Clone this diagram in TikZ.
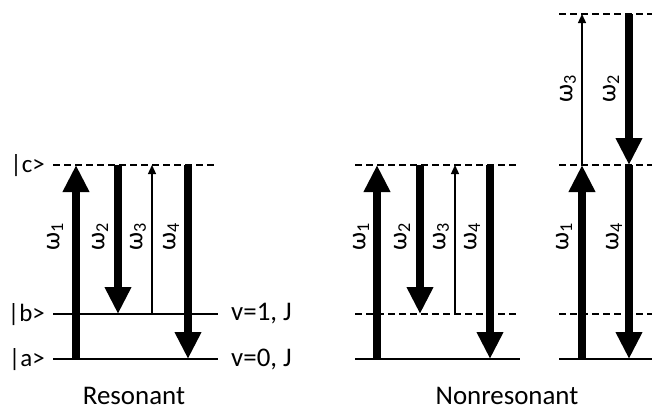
\documentclass[tikz,border=0pt]{standalone}
\usepackage{fontspec}
\setmainfont{Carlito}
\usetikzlibrary{arrows.meta}
\begin{document}
\begin{tikzpicture}[x=1bp,y=-1bp,
  level/.style={line width=2bp},
  virt/.style={line width=2bp, dash pattern=on 7bp off 4bp},
  thick arrow/.style={line width=8.5bp, -{Triangle[width=25bp,length=27bp]}},
  thin arrow/.style={line width=1.3bp, -{Triangle[width=8bp,length=9bp]}},
  ket/.style={font=\fontsize{25}{29}\selectfont, inner sep=0pt},
  lab/.style={font=\fontsize{27}{31}\selectfont, inner sep=0pt},
  om/.style={font=\fontsize{26}{30}\selectfont, inner sep=0pt, rotate=90}
]
\useasboundingbox (0,0) rectangle (652,410);

% ---------- Resonant ----------
\coordinate (Lcl) at (53,165); \coordinate (Lcr) at (218,165);
\coordinate (Lbl) at (53,314); \coordinate (Lbr) at (218,314);
\coordinate (Lal) at (53,359); \coordinate (Lar) at (218,359);
\draw[virt] (Lcl) -- (Lcr);
\draw[level] (Lbl) -- (Lbr);
\draw[level] (Lal) -- (Lar);

\node[ket, anchor=east] (kc) at (45,166) {|c>};
\node[ket, anchor=east] (kb) at (45,315) {|b>};
\node[ket, anchor=east] (ka) at (45,360) {|a>};
\node[lab, anchor=west] (v1) at (231,314) {v=1, J};
\node[lab, anchor=west] (v0) at (231,359) {v=0, J};

\coordinate (r1a) at (76,359); \coordinate (r1c) at (76,165);
\coordinate (r2c) at (118,165); \coordinate (r2b) at (118,314);
\coordinate (r3b) at (152,314); \coordinate (r3c) at (152,165);
\coordinate (r4c) at (188,165); \coordinate (r4a) at (188,359);
\draw[thick arrow] (r1a) -- (r1c);
\draw[thick arrow] (r2c) -- (r2b);
\draw[thin arrow] (r3b) -- (r3c);
\draw[thick arrow] (r4c) -- (r4a);

\node[om] (rw1) at (55,237) {ω\textsubscript{1}};
\node[om] (rw2) at (100,237) {ω\textsubscript{2}};
\node[om] (rw3) at (138,237) {ω\textsubscript{3}};
\node[om] (rw4) at (171,237) {ω\textsubscript{4}};

\node[lab, anchor=base] (res) at (134,404) {Resonant};

% ---------- Nonresonant (left) ----------
\coordinate (Mcl) at (355,165); \coordinate (Mcr) at (520,165);
\coordinate (Mbl) at (355,314); \coordinate (Mbr) at (520,314);
\coordinate (Mal) at (355,359); \coordinate (Mar) at (520,359);
\draw[virt] (Mcl) -- (Mcr);
\draw[virt] (Mbl) -- (Mbr);
\draw[level] (Mal) -- (Mar);

\coordinate (m1a) at (377,359); \coordinate (m1c) at (377,165);
\coordinate (m2c) at (420,165); \coordinate (m2b) at (420,314);
\coordinate (m3b) at (455,314); \coordinate (m3c) at (455,165);
\coordinate (m4c) at (490,165); \coordinate (m4a) at (490,359);
\draw[thick arrow] (m1a) -- (m1c);
\draw[thick arrow] (m2c) -- (m2b);
\draw[thin arrow] (m3b) -- (m3c);
\draw[thick arrow] (m4c) -- (m4a);

\node[om] (mw1) at (361,237) {ω\textsubscript{1}};
\node[om] (mw2) at (402,237) {ω\textsubscript{2}};
\node[om] (mw3) at (441,237) {ω\textsubscript{3}};
\node[om] (mw4) at (472,237) {ω\textsubscript{4}};

% ---------- Nonresonant (right) ----------
\coordinate (Ndl) at (559,14); \coordinate (Ndr) at (652,14);
\coordinate (Ncl) at (559,165); \coordinate (Ncr) at (652,165);
\coordinate (Nbl) at (559,314); \coordinate (Nbr) at (652,314);
\coordinate (Nal) at (559,359); \coordinate (Nar) at (652,359);
\draw[virt] (Ndl) -- (Ndr);
\draw[virt] (Ncl) -- (Ncr);
\draw[virt] (Nbl) -- (Nbr);
\draw[level] (Nal) -- (Nar);

\coordinate (n1a) at (582,359); \coordinate (n1c) at (582,165);
\coordinate (n3c) at (582,165); \coordinate (n3d) at (582,14);
\coordinate (n2d) at (629,14); \coordinate (n2c) at (629,165);
\coordinate (n4c) at (629,165); \coordinate (n4a) at (629,359);
\draw[thick arrow] (n1a) -- (n1c);
\draw[thin arrow] (n3c) -- (n3d);
\draw[thick arrow] (n2d) -- (n2c);
\draw[thick arrow] (n4c) -- (n4a);

\node[om] (nw1) at (564,237) {ω\textsubscript{1}};
\node[om] (nw4) at (614,237) {ω\textsubscript{4}};
\node[om] (nw3) at (568,89) {ω\textsubscript{3}};
\node[om] (nw2) at (611,89) {ω\textsubscript{2}};

\node[lab, anchor=base] (nonres) at (507,404) {Nonresonant};
\end{tikzpicture}
\end{document}
